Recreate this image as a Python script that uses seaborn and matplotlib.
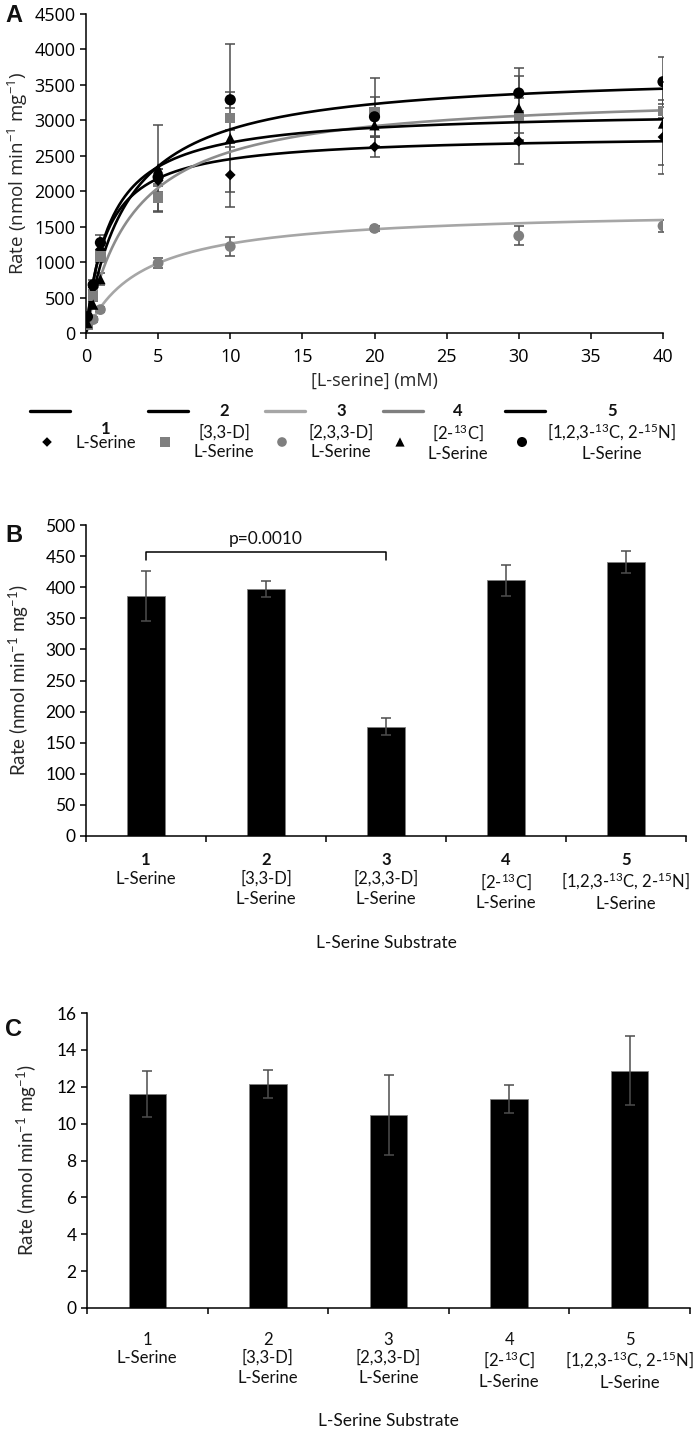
#!/usr/bin/env python3
# Serine kinetics figure: A = Michaelis-Menten curves, B/C = rates per substrate
import numpy as np
import pandas as pd
import seaborn as sns
import matplotlib.pyplot as plt

# ---- Panel A data ----
conc = [0.1, 0.5, 1, 5, 10, 20, 30, 40]
rate_1 = [200, 640, 1180, 2150, 2230, 2625, 2705, 2765]
err_1 = [30, 60, 90, 160, 455, 140, 315, 515]
rate_2 = [110, 520, 1080, 1910, 3030, 3120, 3070, 3130]
err_2 = [20, 50, 80, 190, 1040, 480, 250, 100]
rate_3 = [120, 190, 330, 985, 1220, 1475, 1370, 1510]
err_3 = [20, 30, 40, 70, 135, 30, 135, 90]
rate_4 = [140, 400, 760, 2320, 2750, 2930, 3175, 2955]
err_4 = [25, 50, 80, 620, 120, 150, 450, 590]
rate_5 = [230, 680, 1275, 2200, 3290, 3050, 3385, 3545]
err_5 = [40, 70, 110, 120, 110, 280, 350, 350]

# fitted Michaelis-Menten parameters
vmax = [2801, 3400, 1748, 3142, 3692]
km = [1.42, 3.3, 3.87, 1.70, 2.85]

series_names = ['1', '2', '3', '4', '5']
series_labels = ['L-Serine', '[3,3-D]\nL-Serine', '[2,3,3-D]\nL-Serine',
                 '[2-$^{13}$C]\nL-Serine', '[1,2,3-$^{13}$C, 2-$^{15}$N]\nL-Serine']

# ---- Panel B / C data ----
rate_b = [386, 397, 176, 411, 440]
err_b = [40, 13, 13.5, 25, 17.5]
rate_c = [11.6, 12.16, 10.47, 11.32, 12.87]
err_c = [1.25, 0.77, 2.17, 0.75, 1.87]
p_text = 'p=0.0010'

rates = [rate_1, rate_2, rate_3, rate_4, rate_5]
errs = [err_1, err_2, err_3, err_4, err_5]
markers = ['D', 's', 'o', '^', 'o']
marker_colors = ['black', '#7f7f7f', '#7f7f7f', 'black', 'black']
marker_sizes = [30, 55, 60, 55, 65]
curve_colors = ['black', '#8c8c8c', '#a6a6a6', 'black', 'black']
legend_line_colors = ['black', 'black', '#a6a6a6', '#7f7f7f', 'black']
err_color = '#4d4d4d'

sns.set_style("ticks")
plt.rcParams.update({
    'font.family': ['Lato', 'DejaVu Sans'],
    'mathtext.fontset': 'custom',
    'mathtext.rm': 'Lato',
    'mathtext.default': 'regular',
    'axes.linewidth': 1.1,
    'xtick.major.width': 1.1, 'ytick.major.width': 1.1,
    'xtick.major.size': 4, 'ytick.major.size': 4,
    'xtick.color': 'black', 'ytick.color': 'black',
    'axes.edgecolor': 'black',
    'text.color': '#111111',
})

W, H = 697, 1430
fig = plt.figure(figsize=(W / 100, H / 100), dpi=100)


def px_axes(left, top, right, bottom):
    return fig.add_axes([left / W, 1 - bottom / H, (right - left) / W, (bottom - top) / H])


# ================= Panel A =================
axA = px_axes(86, 14, 663, 333)
xs = np.linspace(0, 40, 400)
for i in range(5):
    curve = vmax[i] * xs / (km[i] + xs)
    sns.lineplot(x=xs, y=curve, color=curve_colors[i], linewidth=1.9, ax=axA, zorder=3)
for i in range(5):
    axA.errorbar(conc, rates[i], yerr=errs[i], fmt='none', ecolor=err_color,
                 elinewidth=1.1, capsize=3.5, capthick=1.1, zorder=2)
    sns.scatterplot(x=conc, y=rates[i], marker=markers[i], color=marker_colors[i],
                    s=marker_sizes[i], edgecolor='none', ax=axA, zorder=4)

axA.set_xlim(0, 40)
axA.set_ylim(0, 4500)
axA.set_xticks(range(0, 41, 5))
axA.set_yticks(range(0, 4501, 500))
fa = ['Open Sans', 'DejaVu Sans']
for lab in axA.get_xticklabels() + axA.get_yticklabels():
    lab.set_family(fa)
    lab.set_fontsize(13)
axA.tick_params(axis='x', pad=7)
axA.set_xlabel('[L-serine] (mM)', family=fa, fontsize=13)
axA.set_ylabel(r'Rate (nmol min$^{-1}$ mg$^{-1}$)', family=fa, fontsize=13.5)
axA.xaxis.set_label_coords(0.5, -0.15)
axA.xaxis.label.set_va('center')
axA.yaxis.set_label_coords(-0.118, 0.5)
axA.yaxis.label.set_va('center')
sns.despine(ax=axA)

# legend drawn in pixel space below panel A
axL = px_axes(0, 395, W, 470)
axL.set_xlim(0, W)
axL.set_ylim(470, 395)
axL.axis('off')
line_x = [30, 148, 265, 383, 505]
text_x = [106, 224, 341, 458, 612]
for i in range(5):
    axL.plot([line_x[i], line_x[i] + 40], [411, 411], color=legend_line_colors[i], linewidth=2.4)
    axL.scatter([line_x[i] + 17], [442], marker=markers[i], color=marker_colors[i],
                s=marker_sizes[i] * 0.8, edgecolor='none')
    if i == 0:
        axL.text(text_x[i], 429, series_names[i], ha='center', va='center',
                 fontsize=12, fontweight='bold')
        axL.text(text_x[i], 443, series_labels[i], ha='center', va='center', fontsize=12)
    else:
        axL.text(text_x[i], 411, series_names[i], ha='center', va='center',
                 fontsize=12, fontweight='bold')
        axL.text(text_x[i], 442, series_labels[i], ha='center', va='center',
                 fontsize=12, linespacing=1.25)


def bar_panel(ax, values, errors, ymax, ystep, bold_numbers, lab_offsets, xlab_offset):
    df = pd.DataFrame({'substrate': series_names, 'rate': values})
    sns.barplot(data=df, x='substrate', y='rate', color='black', saturation=1,
                width=0.31, edgecolor='#808080', linewidth=0.6, ax=ax)
    ax.errorbar(range(5), values, yerr=errors, fmt='none', ecolor=err_color,
                elinewidth=1.1, capsize=3.5, capthick=1.1)
    ax.set_xlim(-0.5, 4.5)
    ax.set_ylim(0, ymax)
    ax.set_yticks(np.arange(0, ymax + ystep / 2, ystep))
    ax.set_xticks(np.arange(-0.5, 5, 1))
    ax.set_xticklabels([])
    ax.tick_params(axis='y', labelsize=12.5)
    ax.set_xlabel('')
    ax.set_ylabel(r'Rate (nmol min$^{-1}$ mg$^{-1}$)', fontsize=13.5)
    ax.yaxis.label.set_va('center')
    for i in range(5):
        ax.annotate(series_names[i], xy=(i, 0), xycoords=('data', 'axes fraction'),
                    xytext=(0, -lab_offsets[0]), textcoords='offset points',
                    ha='center', va='center', fontsize=12,
                    fontweight='bold' if bold_numbers else 'normal')
        ax.annotate(series_labels[i], xy=(i, 0), xycoords=('data', 'axes fraction'),
                    xytext=(0, -lab_offsets[1]), textcoords='offset points',
                    ha='center', va='top', fontsize=12, linespacing=1.3)
    ax.annotate('L-Serine Substrate', xy=(0.5, 0), xycoords='axes fraction',
                xytext=(0, -xlab_offset), textcoords='offset points',
                ha='center', va='center', fontsize=12.5)
    sns.despine(ax=ax)


# ================= Panel B =================
axB = px_axes(86, 525, 686, 836)
bar_panel(axB, rate_b, err_b, 500, 50, True, (17, 25), 77)
axB.yaxis.set_label_coords(-0.112, 0.5)
# significance bracket between substrate 1 and 3
br_y, br_drop = 457, 14
axB.plot([0, 0, 2, 2], [br_y - br_drop, br_y, br_y, br_y - br_drop], color='black', linewidth=1.1)
axB.text(1, br_y + 7, p_text, ha='center', va='bottom', fontsize=12.5)

# ================= Panel C =================
axC = px_axes(87, 1013, 690, 1308)
bar_panel(axC, rate_c, err_c, 16, 2, False, (23, 30), 81)
axC.yaxis.set_label_coords(-0.1, 0.5)

# panel letters
for letter, (x, y) in zip('ABC', [(14, 16), (14, 535), (14, 1030)]):
    fig.text(x / W, 1 - y / H, letter, ha='center', va='center', fontsize=17,
             fontweight='bold', family=['Liberation Sans', 'DejaVu Sans'])

fig.savefig('out.png', dpi=100)
